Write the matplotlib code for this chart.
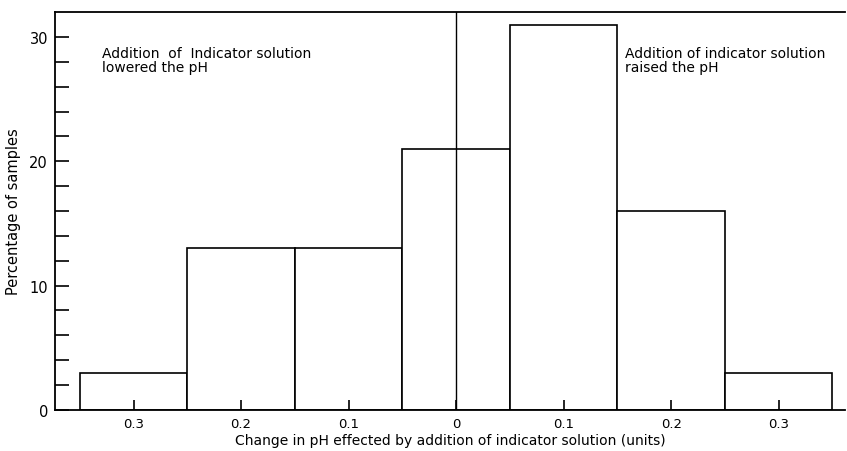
import numpy as np
import matplotlib
matplotlib.use("Agg")
import matplotlib.pyplot as plt

# pH change classes (signed) and percentage of samples
centres = [-0.3, -0.2, -0.1, 0.0, 0.1, 0.2, 0.3]
percent = [3, 13, 13, 21, 31, 16, 3]
tick_labels = ["0.3", "0.2", "0.1", "0", "0.1", "0.2", "0.3"]

plt.rcParams['font.family'] = ['DejaVu Sans']

fig = plt.figure(figsize=(8.47, 4.52), dpi=100)
ax = fig.add_axes([0.065, 0.091, 0.933, 0.880])

ax.bar(centres, percent, width=0.1, color='white', edgecolor='black', linewidth=1.2)
ax.axvline(0, color='black', linewidth=1.0)

ax.set_xlim(-0.373, 0.362)
ax.set_ylim(0, 32)

ax.set_xticks(centres)
ax.set_xticklabels(tick_labels, fontsize=9.5)
ax.set_yticks([0, 10, 20, 30])
ax.set_yticks(np.arange(0, 32, 2), minor=True)
ax.tick_params(axis='y', which='both', direction='in', length=10, width=1.2, labelsize=10.5, pad=5)
ax.tick_params(axis='x', direction='in', length=7, width=1.2, pad=5)

for s in ['left', 'bottom', 'top']:
    ax.spines[s].set_linewidth(1.3)
ax.spines['right'].set_visible(False)

ax.set_ylabel('Percentage of samples', fontsize=10.5, labelpad=6)
ax.set_xlabel('Change in pH effected by addition of indicator solution (units)', fontsize=10, labelpad=2)

ax.text(-0.329, 29.3, 'Addition  of  Indicator solution\nlowered the pH', fontsize=10,
        va='top', ha='left', linespacing=1.0)
ax.text(0.157, 29.3, 'Addition of indicator solution\nraised the pH', fontsize=10,
        va='top', ha='left', linespacing=1.0)

fig.savefig('out.png', dpi=100)
